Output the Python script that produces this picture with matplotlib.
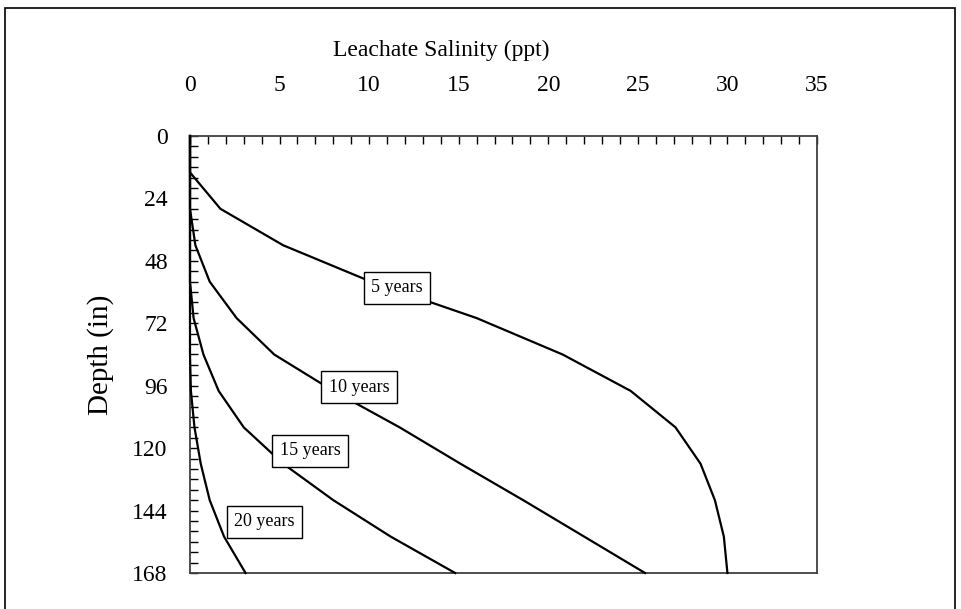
import numpy as np
import matplotlib.pyplot as plt
from matplotlib.patches import Rectangle
from matplotlib.ticker import MultipleLocator

# depth nodes (in) and leachate salinity (ppt)
depth = [0, 14, 28, 42, 56, 70, 84, 98, 112, 126, 140, 154, 168]
sal_5yr = [0, 0, 1.7, 5.2, 10.1, 16.0, 20.8, 24.6, 27.1, 28.5, 29.3, 29.8, 30.0]
sal_10yr = [0, 0, 0, 0.3, 1.1, 2.6, 4.7, 8.0, 11.7, 15.1, 18.6, 22.0, 25.4]
sal_15yr = [0, 0, 0, 0, 0, 0.2, 0.75, 1.6, 3.0, 5.2, 8.0, 11.2, 14.8]
sal_20yr = [0, 0, 0, 0, 0, 0, 0, 0.05, 0.25, 0.6, 1.1, 1.9, 3.1]
series_labels = ['5 years', '10 years', '15 years', '20 years']

x_ticks = [0, 5, 10, 15, 20, 25, 30, 35]
y_ticks = [0, 24, 48, 72, 96, 120, 144, 168]

plt.rcParams['font.family'] = ['Liberation Serif', 'DejaVu Serif']

fig = plt.figure(figsize=(9.61, 6.09), dpi=100)
ax = fig.add_axes([190 / 961, 1 - 573 / 609, 627 / 961, 437 / 609])

for s in [sal_5yr, sal_10yr, sal_15yr, sal_20yr]:
    ax.plot(s, depth, color='black', lw=1.6, clip_on=False, zorder=3)

# curve labels in boxes
label_pos = [(11.55, 58.4), (9.45, 96.5), (6.7, 121), (4.15, 148.3)]
for lab, (lx, ly) in zip(series_labels, label_pos):
    ax.text(lx, ly, lab, fontsize=13, ha='center', va='center', zorder=5,
            bbox=dict(boxstyle='square,pad=0.42', fc='white', ec='black', lw=1))

ax.set_xlim(0, 35)
ax.set_ylim(168, 0)
ax.set_xticks(x_ticks)
ax.set_yticks(y_ticks)
ax.xaxis.set_minor_locator(MultipleLocator(1))
ax.yaxis.set_minor_locator(MultipleLocator(4))
ax.xaxis.tick_top()
ax.tick_params(which='both', direction='in', length=6, width=1, color='black',
               top=True, bottom=False, left=True, right=False, labelsize=17)
ax.tick_params(axis='x', pad=29)
ax.tick_params(axis='y', pad=16)
for sp in ax.spines.values():
    sp.set_color('#404040')
    sp.set_linewidth(1.3)

ax.set_ylabel('Depth (in)', fontsize=21, labelpad=13)
fig.text(441 / 961, 1 - 50 / 609, 'Leachate Salinity (ppt)', fontsize=17,
         ha='center', va='center')

# outer chart border
fig.patches.append(Rectangle((5 / 961, -0.05), 950 / 961, 1.05 - 8 / 609,
                             transform=fig.transFigure, fill=False,
                             ec='black', lw=1.2))

fig.savefig('out.png', dpi=100)
